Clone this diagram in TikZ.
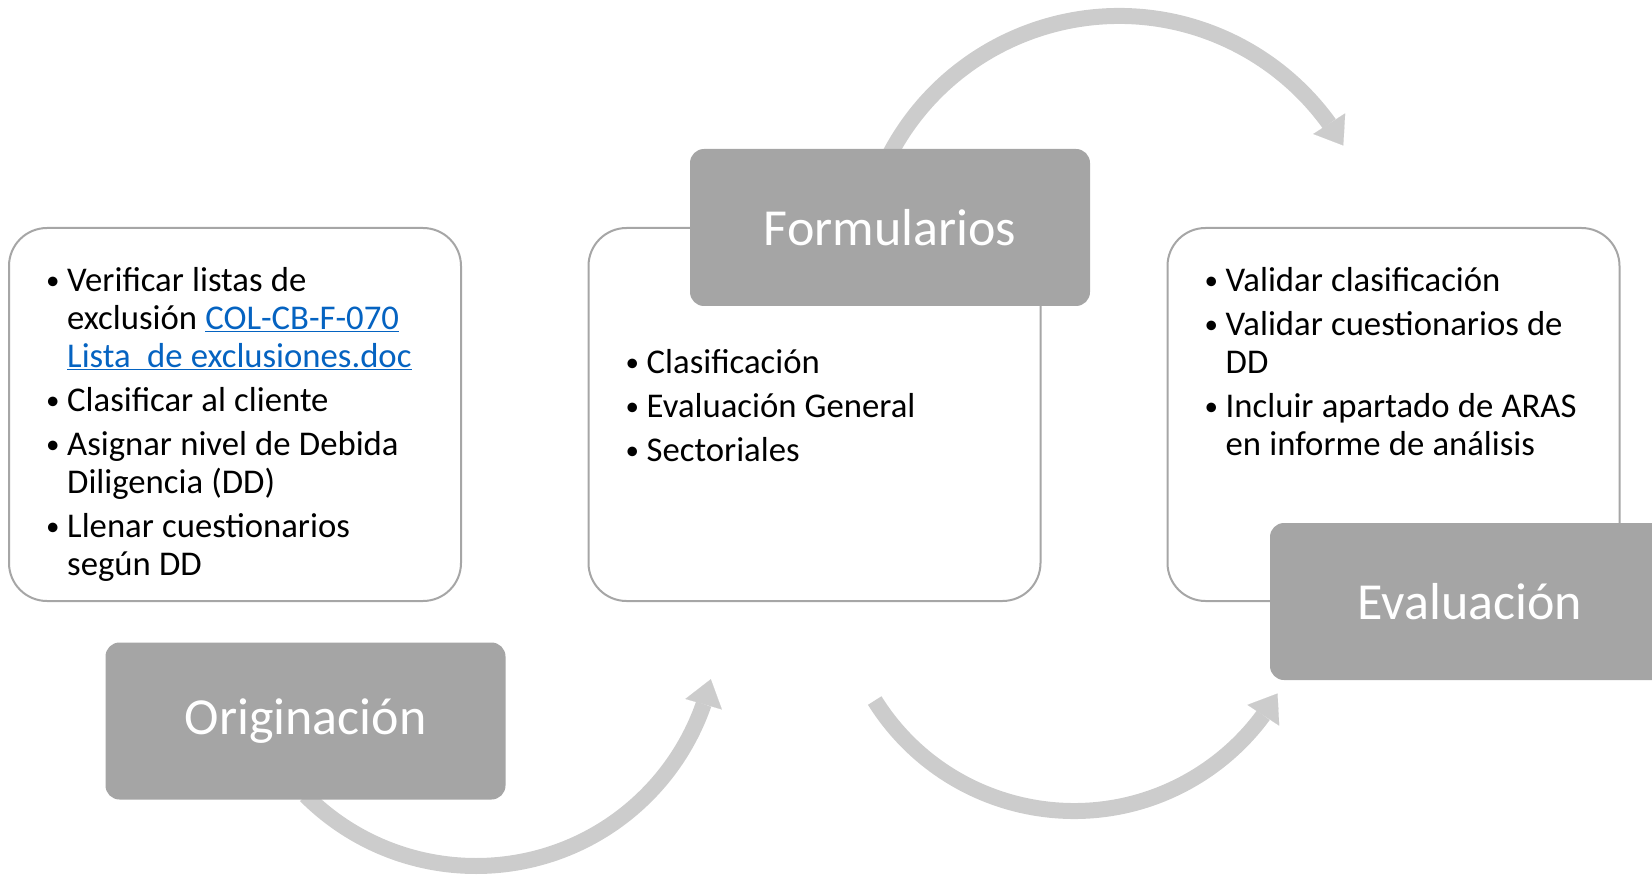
\documentclass[tikz,border=0pt]{standalone}
\usepackage{fontspec}
\setmainfont{Carlito}
\usetikzlibrary{calc}
\usetikzlibrary{positioning}
\usetikzlibrary{arrows.meta}
\usetikzlibrary{bending}
\definecolor{labelgray}{HTML}{A5A5A5}
\definecolor{arrowgray}{HTML}{CCCCCC}
\definecolor{boxgray}{HTML}{A6A6A6}
\definecolor{linkblue}{HTML}{0563C1}
% one bullet of a list, hanging indent for the wrapped lines
\newcommand*\bitem[1]{%
    \par\hangindent=21pt\hangafter=1\noindent
    \makebox[21pt][l]{\rule{0pt}{27pt}\raisebox{2pt}{\fontsize{27}{27}\selectfont\textbullet}}#1\par%
}
\newcommand*\lnk[1]{\textcolor{linkblue}{\underline{#1}}}

\begin{document}
\begin{tikzpicture}
    [%
        x=1pt,y=-1pt,%
        text box/.style={%
            draw=boxgray,%
            line width=2pt,%
            fill=white,%
            rounded corners=38pt,%
            minimum width=452pt,%
            minimum height=373pt%
        },%
        label box/.style={%
            fill=labelgray,%
            rounded corners=14pt,%
            minimum width=400pt,%
            minimum height=157pt,%
            text=white,%
            font=\fontsize{52}{60}\selectfont%
        },%
        bullets/.style={%
            inner sep=0pt,%
            text width=420pt,%
            font=\fontsize{34.7}{38}\selectfont,%
            execute at begin node={\raggedright\parskip=6pt\spaceskip=8.2pt}%
        },%
        cycle arrow/.style={%
            draw=arrowgray,%
            line width=16pt,%
            -{Triangle[length=26pt,width=38pt,line width=0.1pt,flex]}%
        }%
    ]%
    \useasboundingbox (0,0) rectangle (1652,877);
%
    % arcs between the steps, behind the boxes
    \coordinate (orig-arc) at (476,625);
    \coordinate (form-arc) at (1119,275);
    \coordinate (eval-arc) at (1074,576);
    \draw[cycle arrow] ($(orig-arc)+(135:241)$) arc[start angle=135, end angle=13, radius=241];
    \draw[cycle arrow] ($(form-arc)+(207:259)$) arc[start angle=207, end angle=330, radius=259];
    \draw[cycle arrow] ($(eval-arc)+(148:235)$) arc[start angle=148, end angle=30, radius=235];
%
    % the three steps
    \node[text box] (orig-box) at (235,414.5) {};
    \node[text box] (form-box) at (814.5,414.5) {};
    \node[text box] (eval-box) at (1393.5,414.5) {};
%
    \node[bullets, below right=20pt and 38pt of orig-box.north west] (orig-text) {%
        \bitem{Verificar listas de\newline exclusión \lnk{COL-CB-F-070}\newline\lnk{Lista\ \ de exclusiones.doc}}
        \bitem{Clasificar al cliente}
        \bitem{Asignar nivel de Debida\newline Diligencia (DD)}
        \bitem{Llenar cuestionarios\newline según DD}
    };
    \node[bullets, below right=102pt and 38pt of form-box.north west] (form-text) {%
        \bitem{Clasificación}
        \bitem{Evaluación General}
        \bitem{Sectoriales}
    };
    \node[bullets, below right=20pt and 38pt of eval-box.north west] (eval-text) {%
        \bitem{Validar clasificación}
        \bitem{Validar cuestionarios de\newline DD}
        \bitem{Incluir apartado de ARAS\newline en informe de análisis}
    };
%
    \node[label box] (orig-label) at (305.5,721) {Originación};
    \node[label box] (form-label) at (890,227.5) {Formularios};
    \node[label box] (eval-label) at (1470,601.5) {Evaluación};
\end{tikzpicture}
\end{document}
